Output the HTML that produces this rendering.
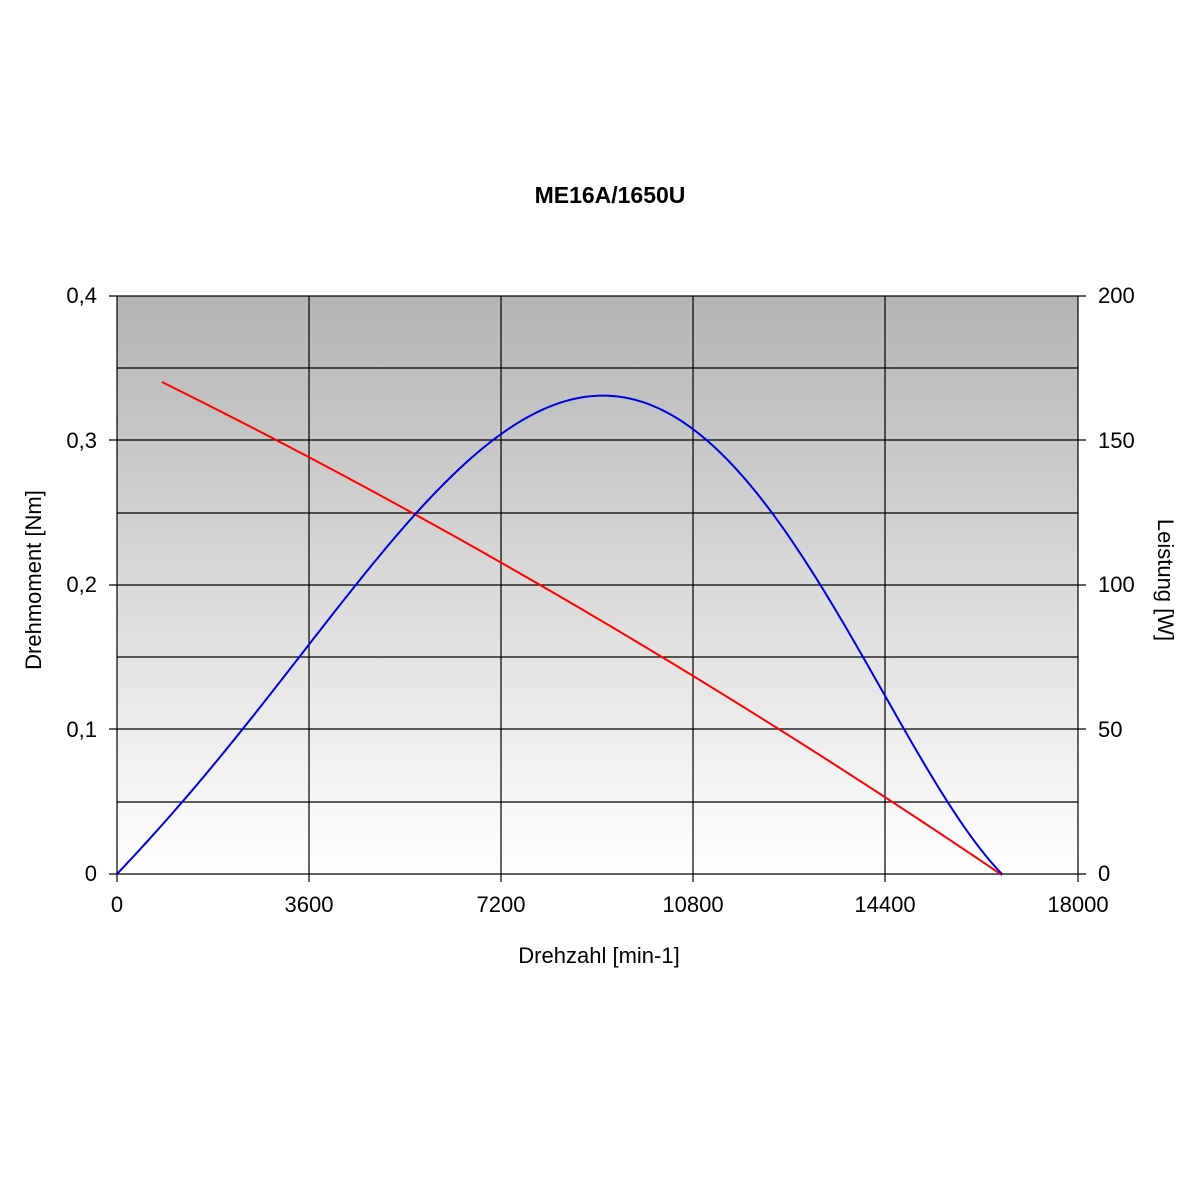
<!DOCTYPE html>
<html><head><meta charset="utf-8">
<style>
html,body{margin:0;padding:0;background:#fff;}
svg{display:block;font-family:"Liberation Sans",Arial,sans-serif;}
</style></head>
<body>
<svg width="1200" height="1200" viewBox="0 0 1200 1200">
<defs>
<linearGradient id="g" x1="0" y1="0" x2="0" y2="1">
<stop offset="0" stop-color="#b4b4b4"/>
<stop offset="1" stop-color="#ffffff"/>
</linearGradient>
</defs>
<rect width="1200" height="1200" fill="#fff"/>
<text x="610" y="203" text-anchor="middle" font-size="23" font-weight="bold">ME16A/1650U</text>
<rect x="117" y="296" width="961" height="578" fill="url(#g)"/>
<g stroke="#000" stroke-width="1.2" fill="none">
<line x1="109" y1="296" x2="1086" y2="296"/>
<line x1="117" y1="368" x2="1078" y2="368"/>
<line x1="109" y1="440" x2="1086" y2="440"/>
<line x1="117" y1="513" x2="1078" y2="513"/>
<line x1="109" y1="585" x2="1086" y2="585"/>
<line x1="117" y1="657" x2="1078" y2="657"/>
<line x1="109" y1="729" x2="1086" y2="729"/>
<line x1="117" y1="802" x2="1078" y2="802"/>
<line x1="109" y1="874" x2="1086" y2="874"/>
<line x1="117" y1="296" x2="117" y2="882"/>
<line x1="309" y1="296" x2="309" y2="882"/>
<line x1="501" y1="296" x2="501" y2="882"/>
<line x1="693" y1="296" x2="693" y2="882"/>
<line x1="885" y1="296" x2="885" y2="882"/>
<line x1="1078" y1="296" x2="1078" y2="882"/>
</g>
<g font-size="22" text-anchor="end">
<text x="97" y="303">0,4</text>
<text x="97" y="448">0,3</text>
<text x="97" y="592">0,2</text>
<text x="97" y="737">0,1</text>
<text x="97" y="881">0</text>
</g>
<g font-size="22" text-anchor="start">
<text x="1098" y="303">200</text>
<text x="1098" y="448">150</text>
<text x="1098" y="592">100</text>
<text x="1098" y="737">50</text>
<text x="1098" y="881">0</text>
</g>
<g font-size="22" text-anchor="middle">
<text x="117" y="912">0</text>
<text x="309" y="912">3600</text>
<text x="501" y="912">7200</text>
<text x="693" y="912">10800</text>
<text x="885" y="912">14400</text>
<text x="1078" y="912">18000</text>
<text x="599" y="963">Drehzahl [min-1]</text>
</g>
<text transform="translate(41,580) rotate(-90)" text-anchor="middle" font-size="22">Drehmoment [Nm]</text>
<text transform="translate(1158,580) rotate(90)" text-anchor="middle" font-size="22">Leistung [W]</text>
<path id="red" fill="none" stroke="#ff0000" stroke-width="2"/>
<path id="blue" fill="none" stroke="#0000dd" stroke-width="2"/>
</svg>
<script>
// red: quadratic
var d="";
for(var x=162;x<=1002;x+=4){var u=x-162;var y=382+0.4959*u+1.084e-4*u*u;d+=(d?" L":"M")+x+","+y.toFixed(2);}
document.getElementById("red").setAttribute("d",d);
// blue: least squares fit of g(u)=f/(u(1-u)) with cubic
var pts=[[183,802],[243,730],[300,650],[357,586],[417,515],[498,438],[603,391],[693,428],[770,513],[820,586],[863,658],[905,730],[950,802]];
var N=4,A=[],B=[];
for(var i=0;i<N;i++){A.push([0,0,0,0]);B.push(0);}
pts.forEach(function(p){
var u=(p[0]-117)/885,r=(874-p[1])/483,gv=r/(u*(1-u)),w=u*(1-u);
var ph=[1,u,u*u,u*u*u];
for(var i=0;i<N;i++){for(var j=0;j<N;j++)A[i][j]+=ph[i]*ph[j]*w*w;B[i]+=ph[i]*gv*w*w;}
});
for(var i=0;i<N;i++){for(var k=i+1;k<N;k++){var f=A[k][i]/A[i][i];for(var j=i;j<N;j++)A[k][j]-=f*A[i][j];B[k]-=f*B[i];}}
var c=[0,0,0,0];
for(var i=N-1;i>=0;i--){var s=B[i];for(var j=i+1;j<N;j++)s-=A[i][j]*c[j];c[i]=s/A[i][i];}
var d2="";
for(var x=117;x<=1002;x+=3){var u=(x-117)/885;var gv=c[0]+c[1]*u+c[2]*u*u+c[3]*u*u*u;var y=874-483*u*(1-u)*gv;d2+=(d2?" L":"M")+x+","+y.toFixed(2);}
d2+=" L1002,874";
document.getElementById("blue").setAttribute("d",d2);
</script>
</body></html>
